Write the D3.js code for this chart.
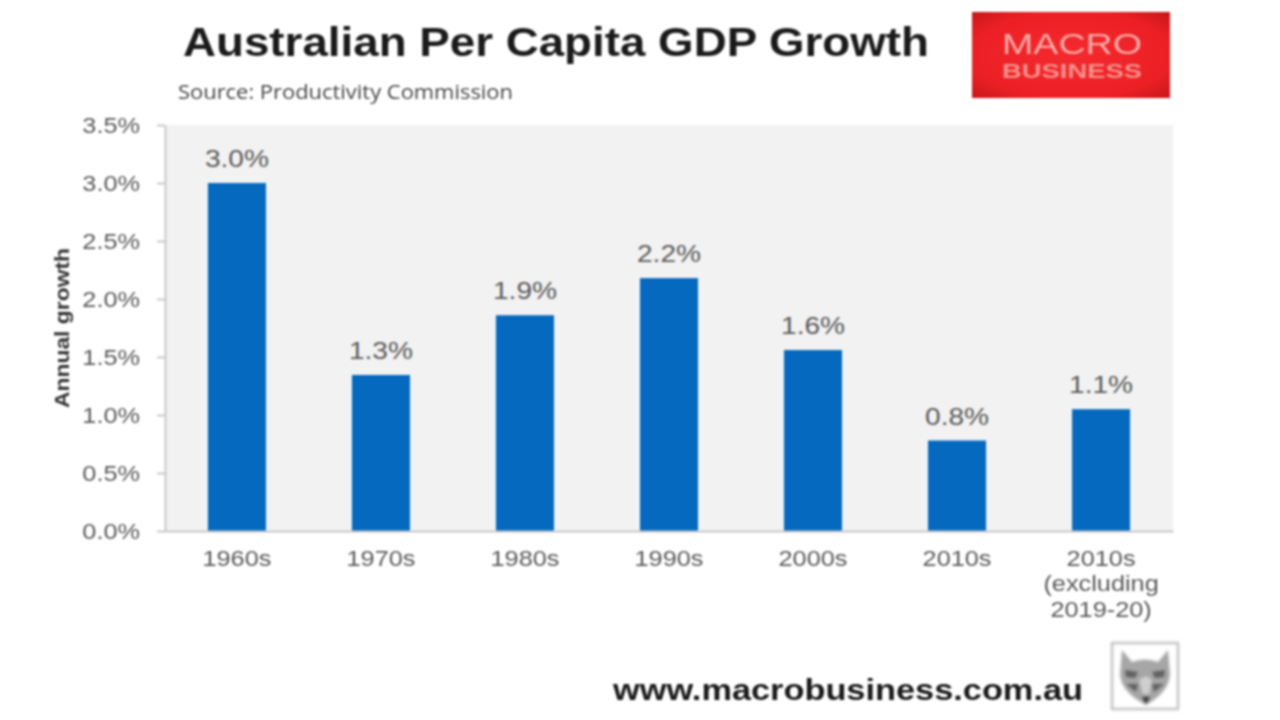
<!DOCTYPE html>
<html>
<head>
<meta charset="utf-8">
<script src="https://cdnjs.cloudflare.com/ajax/libs/d3/7.8.5/d3.min.js"></script>
<style>
  html, body { margin: 0; background: #fff; }
  svg { display: block; filter: blur(0.8px); }
  text { font-family: "Liberation Sans", Arial, sans-serif; fill: #595959; }
</style>
</head>
<body>
<svg id="chart" width="1280" height="720"></svg>
<script>
const categories = ["1960s", "1970s", "1980s", "1990s", "2000s", "2010s", "2010s (excluding 2019-20)"];
const categoryLines = [["1960s"], ["1970s"], ["1980s"], ["1990s"], ["2000s"], ["2010s"], ["2010s", "(excluding", "2019-20)"]];
const growth = [3.0, 1.345, 1.86, 2.18, 1.56, 0.78, 1.05];
const barLabels = ["3.0%", "1.3%", "1.9%", "2.2%", "1.6%", "0.8%", "1.1%"];
const yTicks = [0, 0.5, 1, 1.5, 2, 2.5, 3, 3.5];

const svg = d3.select("#chart");
const plot = {left: 165, right: 1173, top: 125, bottom: 531};

// the source image is stretched sideways, so text gets widened to match
function widen(sel, k) {
    sel.each(function () {
        this.setAttribute("textLength", this.getComputedTextLength() * k);
        this.setAttribute("lengthAdjust", "spacingAndGlyphs");
    });
}

const x = d3.scaleBand().domain(categories).range([plot.left, plot.right]).paddingInner(0.597).paddingOuter(0.298);
const y = d3.scaleLinear().domain([0, 3.5]).range([plot.bottom, plot.top]);

// panel
svg.append("rect")
    .attr("x", plot.left).attr("y", plot.top)
    .attr("width", plot.right - plot.left).attr("height", plot.bottom - plot.top)
    .attr("fill", "#f2f2f2");

// bars
svg.selectAll(".bar").data(categories).enter().append("rect")
    .attr("class", "bar")
    .attr("x", d => x(d))
    .attr("y", (d, i) => y(growth[i]))
    .attr("width", x.bandwidth())
    .attr("height", (d, i) => plot.bottom - y(growth[i]))
    .attr("fill", "#0569bf");

// value labels
svg.selectAll(".bar-label").data(categories).enter().append("text")
    .attr("class", "bar-label")
    .attr("x", d => x(d) + x.bandwidth() / 2)
    .attr("y", (d, i) => y(growth[i]) - 16)
    .attr("text-anchor", "middle")
    .attr("font-size", 24)
    .text((d, i) => barLabels[i])
    .call(widen, 1.17);

// y axis
const yAxisG = svg.append("g")
    .attr("transform", `translate(${plot.left},0)`)
    .call(d3.axisLeft(y).tickValues(yTicks).tickFormat(d => d.toFixed(1) + "%").tickSize(8).tickSizeOuter(0));
yAxisG.selectAll("path, line").attr("stroke", "#c8c8c8").attr("stroke-width", 2);
yAxisG.selectAll("text")
    .attr("x", -25).attr("font-size", 22).attr("font-family", "Liberation Sans").attr("fill", "#595959")
    .call(widen, 1.15);

// x axis
const xAxisG = svg.append("g")
    .attr("transform", `translate(0,${plot.bottom})`)
    .call(d3.axisBottom(x).tickSize(0).tickFormat((d, i) => categoryLines[i][0]));
xAxisG.select("path").attr("stroke", "#c8c8c8").attr("stroke-width", 2);
xAxisG.selectAll(".tick").each(function (d, i) {
    const tick = d3.select(this);
    categoryLines[i].slice(1).forEach((line, j) => {
        tick.append("text").attr("y", 60 + j * 26).attr("text-anchor", "middle").text(line);
    });
});
xAxisG.selectAll("text")
    .attr("font-size", 22).attr("font-family", "Liberation Sans").attr("fill", "#595959");
xAxisG.selectAll(".tick text:first-of-type").attr("y", 19);
xAxisG.selectAll("text").call(widen, 1.15);

// axis title
svg.append("text")
    .attr("transform", "translate(69,328) rotate(-90)")
    .attr("text-anchor", "middle")
    .attr("font-size", 21)
    .attr("font-weight", "bold")
    .attr("textLength", 160)
    .attr("lengthAdjust", "spacingAndGlyphs")
    .style("fill", "#333")
    .text("Annual growth");

// header
svg.append("text")
    .attr("x", 183).attr("y", 56)
    .attr("font-size", 40).attr("font-weight", "bold")
    .attr("textLength", 746).attr("lengthAdjust", "spacingAndGlyphs")
    .style("fill", "#1a1a1a")
    .text("Australian Per Capita GDP Growth");
svg.append("text")
    .attr("x", 178).attr("y", 99)
    .attr("font-size", 20)
    .attr("textLength", 335).attr("lengthAdjust", "spacingAndGlyphs")
    .style("font-family", "'Open Sans'").style("fill", "#444")
    .text("Source: Productivity Commission");

// red logo
const defs = svg.append("defs");
const grad = defs.append("radialGradient").attr("id", "logoRed").attr("r", "72%");
grad.append("stop").attr("offset", "0%").attr("stop-color", "#f42a2e");
grad.append("stop").attr("offset", "70%").attr("stop-color", "#ec2024");
grad.append("stop").attr("offset", "100%").attr("stop-color", "#c3161b");
svg.append("rect")
    .attr("x", 972).attr("y", 12).attr("width", 198).attr("height", 86)
    .attr("fill", "url(#logoRed)");
svg.append("text")
    .attr("x", 1002).attr("y", 54)
    .attr("font-size", 30)
    .attr("textLength", 140).attr("lengthAdjust", "spacingAndGlyphs")
    .style("fill", "#f9a9a6")
    .text("MACRO");
svg.append("text")
    .attr("x", 1002).attr("y", 78)
    .attr("font-size", 20).attr("font-weight", "bold")
    .attr("textLength", 140).attr("lengthAdjust", "spacingAndGlyphs")
    .style("fill", "#f7908d")
    .text("BUSINESS");

// footer
svg.append("text")
    .attr("x", 613).attr("y", 700)
    .attr("font-size", 30).attr("font-weight", "bold")
    .attr("textLength", 470).attr("lengthAdjust", "spacingAndGlyphs")
    .style("fill", "#1a1a1a")
    .text("www.macrobusiness.com.au");

// wolf badge
const wolf = svg.append("g").attr("transform", "translate(1111,642)").style("filter", "blur(1.3px)");
wolf.append("rect").attr("x", 1).attr("y", 1).attr("width", 66).attr("height", 66)
    .attr("fill", "#fff").attr("stroke", "#b4b4b4").attr("stroke-width", 2);
wolf.append("path")
    .attr("d", "M11 8 L21 20 Q34 15 47 20 L57 8 L59 32 Q58 50 35 63 Q10 50 9 32 Z")
    .attr("fill", "#a6a6a6");
wolf.append("path").attr("d", "M14 28 L27 30 L24 36 L15 35 Z M41 30 L54 28 L53 35 L44 36 Z M15 42 L27 42 L25 50 Z M41 42 L53 42 L43 50 Z")
    .attr("fill", "#606060");
wolf.append("path").attr("d", "M31 55 L39 55 L35 62 Z").attr("fill", "#333");
wolf.append("path").attr("d", "M28 38 L35 34 L41 38 L38 52 L32 52 Z").attr("fill", "#cfcfcf");
</script>
</body>
</html>
